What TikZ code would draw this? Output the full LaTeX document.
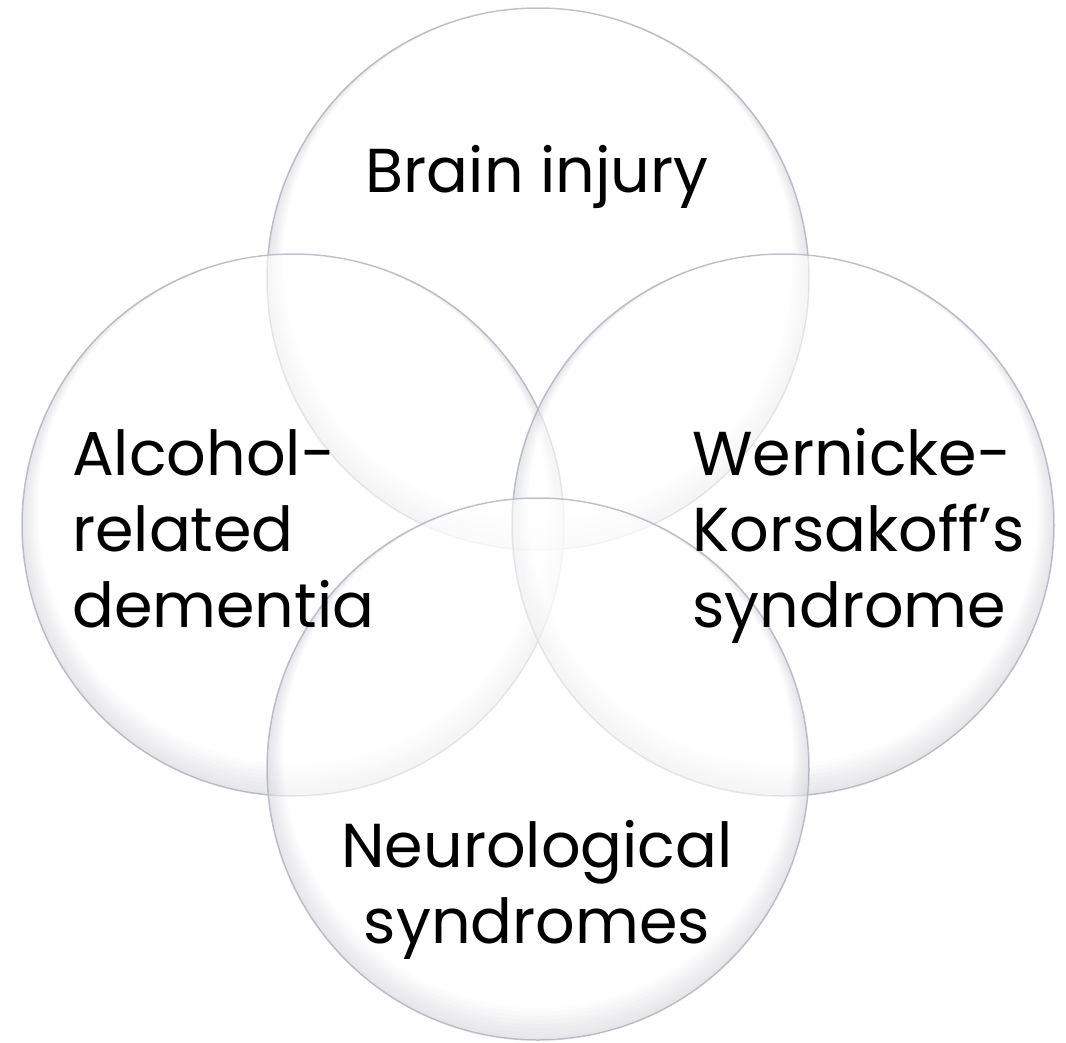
\documentclass[tikz,border=0pt]{standalone}
\usepackage{fontspec}
\setmainfont{Poppins}
\usetikzlibrary{positioning}
\definecolor{rimgray}{RGB}{192,195,204}
\definecolor{shadegray}{RGB}{70,72,90}
% soft shadow along the inside of the lower rim
\newcommand\innershade[1]{\foreach \d in {2,4,...,16} {\fill[shadegray, fill opacity=0.016, even odd rule] (#1.center) circle (271pt) ([yshift=\d pt]#1.center) circle ({(271-\d)*1pt});}}

\begin{document}
\begin{tikzpicture}[x=1pt, y=-1pt, ring/.style={circle, minimum size=542pt, inner sep=0pt, draw=rimgray, line width=1.5pt, fill=white, fill opacity=0.6, draw opacity=0.9}, lbl/.style={font=\fontsize{62}{76}\selectfont, inner sep=0pt}]
	\useasboundingbox (0,0) rectangle (1066,1042);
	\node[ring] (brain) at (538,279) {};
	\innershade{brain}
	\node[ring] (alcohol) at (293,525) {};
	\innershade{alcohol}
	\node[ring] (wernicke) at (783,525) {};
	\innershade{wernicke}
	\node[ring] (neuro) at (538,769) {};
	\innershade{neuro}
	\node[lbl, align=center, anchor=base] (braintxt) at (537,192) {Brain injury};
	\node[lbl, align=left, anchor=base west] (alcoholtxt) at (72,627) {Alcohol-\\related\\dementia};
	\node[lbl, align=left, anchor=base west] (wernicketxt) at (692,627) {Wernicke-\\Korsakoff’s\\syndrome};
	\node[lbl, align=center, anchor=base] (neurotxt) at (537,943) {Neurological\\syndromes};
\end{tikzpicture}
\end{document}
